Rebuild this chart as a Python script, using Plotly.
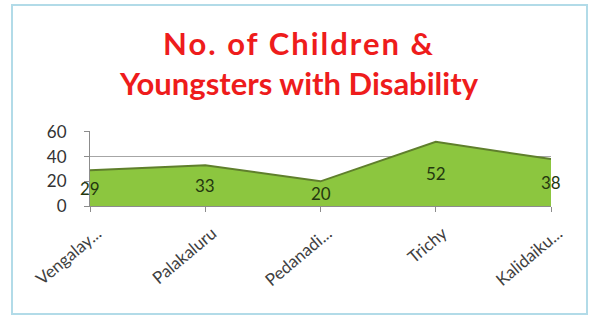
import plotly.graph_objects as go

categories = ["Vengalay...", "Palakaluru", "Pedanadi...", "Trichy", "Kalidaiku..."]
values = [29, 33, 20, 52, 38]
y_ticks = [0, 20, 40, 60]
title_lines = ["No. of Children &", "Youngsters with Disability"]

W, H = 598, 318
L, R, T, B = 90, 47, 131, 112
pw, ph = W - L - R, H - T - B

fig = go.Figure()
fig.add_trace(go.Scatter(
    x=categories, y=values, mode="lines", fill="tozeroy",
    fillcolor="#8cc63f", line=dict(color="#5f7f2c", width=2),
    hoverinfo="skip", showlegend=False))

for c, v in zip(categories, values):
    fig.add_annotation(x=c, y=v / 2, text=str(v), showarrow=False,
                       font=dict(family="Lato", size=17, color="#24380f"))

def px_x(px):
    return (px - L) / pw

def px_y(py):
    return (H - B - py) / ph

fig.add_shape(type="rect", xref="paper", yref="paper",
              x0=px_x(12), x1=px_x(587), y0=px_y(314), y1=px_y(5),
              line=dict(color="#b2dbe8", width=2), layer="below")

title_text = ('<span style="letter-spacing:2px">' + title_lines[0] + '</span><br>'
              + title_lines[1])

fig.update_layout(
    width=W, height=H,
    margin=dict(l=L, r=R, t=T, b=B, autoexpand=False),
    paper_bgcolor="white", plot_bgcolor="white",
    title=dict(text=title_text, x=0.5, xref="container",
               xanchor="center", y=1 - 55 / H, yanchor="top", yref="container",
               font=dict(family="Lato", size=31, color="#ee1c1c", weight="bold")),
    xaxis=dict(type="category", range=[0, 4], showgrid=False, automargin=False,
               showline=True, linecolor="#8c8c8c", linewidth=1,
               ticks="outside", ticklen=5, tickcolor="#8c8c8c",
               tickangle=-40, ticklabelstandoff=5, ticklabelshift=7,
               tickfont=dict(family="Lato", size=17, color="#404040")),
    yaxis=dict(range=[0, 60.8], tickvals=y_ticks, showgrid=True, gridcolor="#a6a6a6",
               showline=True, linecolor="#8c8c8c", linewidth=1, automargin=False,
               ticks="outside", ticklen=5, tickcolor="#8c8c8c", zeroline=False,
               ticklabelstandoff=14,
               tickfont=dict(family="Lato", size=17, color="#333333")),
)

fig.write_html("out.html", config={"displayModeBar": False},
               post_script="document.body.style.margin='0';")
